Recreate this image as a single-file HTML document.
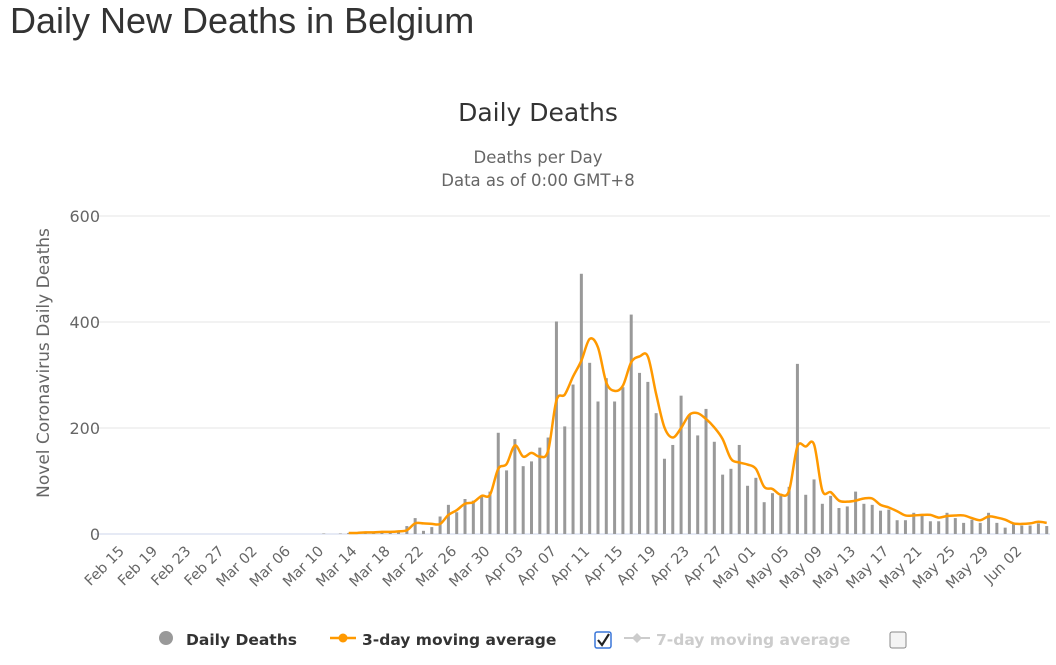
<!DOCTYPE html>
<html><head><meta charset="utf-8"><style>
body{margin:0;background:#fff;font-family:"Liberation Sans",sans-serif;}
#wrap{position:relative;width:1056px;height:665px;overflow:hidden}
h1{position:absolute;left:10px;top:0px;margin:0;font-weight:normal;font-size:36px;color:#333}
svg text{font-family:"DejaVu Sans",sans-serif}
</style></head><body>
<div id="wrap">
<h1>Daily New Deaths in Belgium</h1>
<svg id="chart" width="1056" height="665" style="position:absolute;left:0;top:0"></svg>
</div>
<script>
const tickLabels=["Feb 15","Feb 19","Feb 23","Feb 27","Mar 02","Mar 06","Mar 10","Mar 14","Mar 18","Mar 22","Mar 26","Mar 30","Apr 03","Apr 07","Apr 11","Apr 15","Apr 19","Apr 23","Apr 27","May 01","May 05","May 09","May 13","May 17","May 21","May 25","May 29","Jun 02"];
const yTicks=[0,200,400,600];
const dailyStart=25;
const dailyDeaths=[1,0,1,2,1,3,2,4,5,3,15,30,6,13,33,55,41,66,63,72,80,191,120,179,128,137,163,182,401,203,282,491,323,250,294,250,277,414,304,287,228,142,168,261,225,186,236,174,112,123,168,91,106,60,77,72,89,321,74,103,57,72,49,52,80,57,55,44,46,26,26,40,35,24,24,40,30,21,27,21,40,21,12,19,16,16,20,15];
const maStart=28;
const movingAvg=[2,2,3,3,4,4,5,7,20,20,19,19,36,45,57,60,72,74,123,132,167,146,153,146,157,252,263,297,327,368,352,286,270,280,324,335,335,264,201,182,200,225,228,217,201,179,142,135,131,123,89,85,74,82,165,165,169,82,79,63,61,63,67,67,55,50,43,35,35,36,36,31,34,35,35,30,26,33,31,27,20,19,20,23,21];
const NS="http://www.w3.org/2000/svg";
const svg=document.getElementById('chart');
const X0=116,DX=8.31,Y0=534,KY=0.53;
const xs=i=>X0+DX*i, ys=v=>Y0-v*KY;
function mk(t,a,txt){const e=document.createElementNS(NS,t);for(const k in a)e.setAttribute(k,a[k]);if(txt!==undefined)e.textContent=txt;svg.appendChild(e);return e;}
let e;
e=mk('text',{x:538,y:121,'text-anchor':'middle','font-size':25,fill:'#333'},'Daily Deaths');


e=mk('text',{x:538,y:163,'text-anchor':'middle','font-size':16.5,fill:'#666'},'Deaths per Day');


e=mk('text',{x:538,y:186,'text-anchor':'middle','font-size':16.5,fill:'#666'},'Data as of 0:00 GMT+8');


e=mk('text',{x:0,y:0,'text-anchor':'middle','font-size':17,fill:'#666',transform:'translate(49,363) rotate(-90)'},'Novel Coronavirus Daily Deaths');


yTicks.forEach(v=>{
 const g=mk('line',{x1:95,x2:1050,y1:ys(v),y2:ys(v),stroke:v===0?'#ccd6eb':'#e6e6e6','stroke-width':1});
 
 
 const t=mk('text',{x:100,y:ys(v)+6,'text-anchor':'end','font-size':16,fill:'#666'},String(v));
 
 
});
tickLabels.forEach((l,k)=>{
 const x=xs(k*4)+9,y=552;
 const t=mk('text',{x:x,y:y,'text-anchor':'end','font-size':14.5,fill:'#666',transform:`rotate(-45 ${x} ${y})`},l);
 
 
});
dailyDeaths.forEach((v,k)=>{
 const i=dailyStart+k;
 const b=mk('rect',{x:xs(i)-1.5,y:ys(v),width:3,height:v*KY,fill:'#999'});
 
 
});
const pts=movingAvg.map((v,k)=>[xs(maStart+k),ys(v)]);
let d=`M${pts[0][0]},${pts[0][1]}`;
for(let k=0;k<pts.length-1;k++){
 const p0=pts[Math.max(0,k-1)],p1=pts[k],p2=pts[k+1],p3=pts[Math.min(pts.length-1,k+2)];
 const c1=[p1[0]+(p2[0]-p0[0])/6,p1[1]+(p2[1]-p0[1])/6],c2=[p2[0]-(p3[0]-p1[0])/6,p2[1]-(p3[1]-p1[1])/6];
 d+=` C${c1[0]},${c1[1]} ${c2[0]},${c2[1]} ${p2[0]},${p2[1]}`;
}
e=mk('path',{d:d,fill:'none',stroke:'#ff9900','stroke-width':2.5,'stroke-linejoin':'round'});


e=mk('circle',{cx:166,cy:638,r:7,fill:'#999'});


e=mk('text',{x:186,y:645,'font-size':15.5,'font-weight':'bold',fill:'#333'},'Daily Deaths');


e=mk('line',{x1:330,x2:356,y1:638,y2:638,stroke:'#ff9900','stroke-width':2.5});


e=mk('circle',{cx:343,cy:638,r:4.5,fill:'#ff9900'});


e=mk('text',{x:362,y:645,'font-size':15.5,'font-weight':'bold',fill:'#333'},'3-day moving average');


e=mk('rect',{x:595,y:632,width:16,height:16,rx:2,fill:'#fff',stroke:'#3a76d8','stroke-width':1.5});


e=mk('path',{d:'M598,640 L602,645 L609,634',fill:'none',stroke:'#222','stroke-width':2.2});


e=mk('line',{x1:624,x2:650,y1:638,y2:638,stroke:'#ccc','stroke-width':2});


e=mk('path',{d:'M637,633 L642,638 L637,643 L632,638 Z',fill:'#ccc'});


e=mk('text',{x:656,y:645,'font-size':15.5,'font-weight':'bold',fill:'#ccc'},'7-day moving average');


e=mk('rect',{x:890,y:632,width:16,height:16,rx:2,fill:'#f4f4f4',stroke:'#888','stroke-width':1});


</script>
</body></html>
